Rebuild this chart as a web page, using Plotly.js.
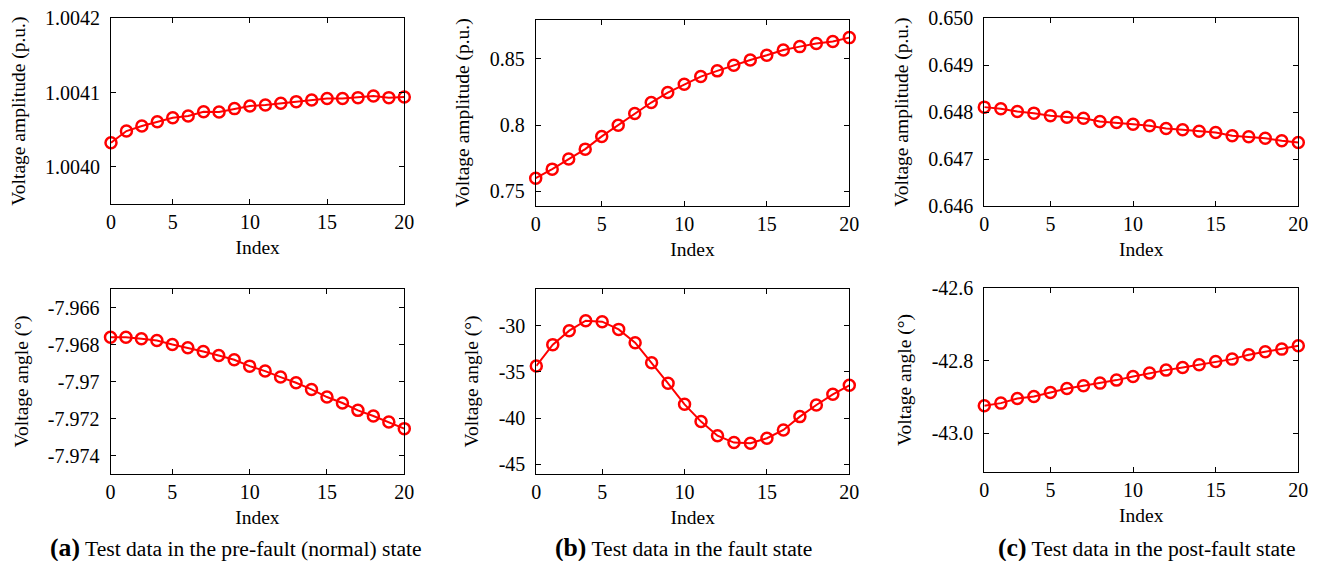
<!DOCTYPE html>
<html>
<head>
<meta charset="utf-8">
<script src="https://cdn.plot.ly/plotly-3.0.1.min.js"></script>
<style>html,body{margin:0;padding:0;background:#fff;}#chart{width:1318px;height:561px;}</style>
</head>
<body>
<div id="chart"></div>
<script>
// Sample index (20 samples)
const sampleIndex = [1,2,3,4,5,6,7,8,9,10,11,12,13,14,15,16,17,18,19,20];
const xTickVals = [1,5,10,15,20];
const xTickText = ['0','5','10','15','20'];

// (a) pre-fault (normal) state
const preAmp = [1.0040324,1.0040482,1.0040550,1.0040608,1.0040662,1.0040685,1.0040743,1.0040739,1.0040784,1.0040820,
                1.0040833,1.0040856,1.0040878,1.0040901,1.0040919,1.0040919,1.0040932,1.0040955,1.0040932,1.0040941];
const preAng = [-7.967604,-7.967604,-7.967694,-7.967784,-7.968000,-7.968180,-7.968378,-7.968593,-7.968827,-7.969169,
                -7.969438,-7.969762,-7.970067,-7.970427,-7.970840,-7.971164,-7.971560,-7.971865,-7.972189,-7.972548];
// (b) fault state
const faultAmp = [0.7600,0.7668,0.7744,0.7819,0.7915,0.8000,0.8088,0.8171,0.8246,0.8309,
                  0.8367,0.8410,0.8452,0.8492,0.8528,0.8568,0.8593,0.8616,0.8631,0.8661];
const faultAng = [-34.36,-32.05,-30.54,-29.46,-29.57,-30.40,-31.84,-34.00,-36.24,-38.51,
                  -40.38,-41.90,-42.65,-42.73,-42.18,-41.28,-39.84,-38.58,-37.43,-36.45];
// (c) post-fault state
const postAmp = [0.648107,0.648071,0.648014,0.647979,0.647922,0.647893,0.647872,0.647801,0.647780,0.647744,
                 0.647709,0.647652,0.647623,0.647595,0.647567,0.647496,0.647474,0.647446,0.647389,0.647353];
const postAng = [-42.9241,-42.9168,-42.9039,-42.8984,-42.8874,-42.8763,-42.8690,-42.8616,-42.8533,-42.8432,
                 -42.8340,-42.8257,-42.8184,-42.8110,-42.8018,-42.7954,-42.7834,-42.7752,-42.7678,-42.7586];

// y tick labels
const yTicksPreAmp = [1.0040,1.0041,1.0042];      const yTextPreAmp = ['1.0040','1.0041','1.0042'];
const yTicksPreAng = [-7.974,-7.972,-7.970,-7.968,-7.966]; const yTextPreAng = ['-7.974','-7.972','-7.97','-7.968','-7.966'];
const yTicksFaultAmp = [0.75,0.80,0.85];          const yTextFaultAmp = ['0.75','0.8','0.85'];
const yTicksFaultAng = [-45,-40,-35,-30];         const yTextFaultAng = ['-45','-40','-35','-30'];
const yTicksPostAmp = [0.646,0.647,0.648,0.649,0.650]; const yTextPostAmp = ['0.646','0.647','0.648','0.649','0.650'];
const yTicksPostAng = [-43.0,-42.8,-42.6];        const yTextPostAng = ['-43.0','-42.8','-42.6'];

const captions = [
  {tag:'(a)', text:'Test data in the pre-fault (normal) state'},
  {tag:'(b)', text:'Test data in the fault state'},
  {tag:'(c)', text:'Test data in the post-fault state'}
];

const W = 1318, H = 561;
const RED = '#ff0000';
const FONT = 'Liberation Serif, Times New Roman, serif';

// panel boxes in px: [left, right, top, bottom]
const boxes = [
  [111, 404.3, 18.3, 204],
  [535.7, 849.3, 20, 205.7],
  [984.3, 1298.3, 18.3, 206],
  [110.5, 404.3, 289, 474],
  [536.3, 849.3, 289, 474],
  [984.3, 1298.3, 288.3, 471.7]
];
const series = [preAmp, faultAmp, postAmp, preAng, faultAng, postAng];
const yRanges = [[1.00395,1.0042],[0.7392,0.8794],[0.646,0.650],[-7.975,-7.965],[-46.05,-26.03],[-43.106,-42.6]];
const yTV = [yTicksPreAmp, yTicksFaultAmp, yTicksPostAmp, yTicksPreAng, yTicksFaultAng, yTicksPostAng];
const yTT = [yTextPreAmp, yTextFaultAmp, yTextPostAmp, yTextPreAng, yTextFaultAng, yTextPostAng];
const yTitles = ['Voltage amplitude (p.u.)','Voltage amplitude (p.u.)','Voltage amplitude (p.u.)',
                 'Voltage angle (°)','Voltage angle (°)','Voltage angle (°)'];

const data = [];
const layout = {
  width: W, height: H,
  margin: {l:0, r:0, t:0, b:0},
  paper_bgcolor: '#fff', plot_bgcolor: '#fff',
  showlegend: false,
  font: {family: FONT, color: '#000', size: 20},
  annotations: []
};

for (let i = 0; i < 6; i++) {
  const n = i + 1;
  const xa = n === 1 ? 'x' : 'x' + n;
  const ya = n === 1 ? 'y' : 'y' + n;
  data.push({
    type: 'scatter', mode: 'lines+markers',
    x: sampleIndex, y: series[i],
    xaxis: xa, yaxis: ya,
    line: {color: RED, width: 2},
    marker: {symbol: 'circle-open', size: 11, color: RED, line: {color: RED, width: 2.5}},
    cliponaxis: false,
    hoverinfo: 'x+y'
  });
  const b = boxes[i];
  const common = {
    showline: true, linecolor: '#000', linewidth: 1, mirror: 'ticks',
    ticks: 'inside', ticklen: 5, tickcolor: '#000', tickwidth: 1,
    showgrid: false, zeroline: false,
    tickfont: {family: FONT, size: 20, color: '#000'}
  };
  layout['xaxis' + (n === 1 ? '' : n)] = Object.assign({}, common, {
    domain: [b[0] / W, b[1] / W],
    anchor: ya,
    range: [1, 20],
    tickmode: 'array', tickvals: xTickVals, ticktext: xTickText,
    ticklabelstandoff: 0,
    title: {text: 'Index', font: {family: FONT, size: 19.5, color: '#000'}, standoff: 8}
  });
  layout['yaxis' + (n === 1 ? '' : n)] = Object.assign({}, common, {
    domain: [1 - b[3] / H, 1 - b[2] / H],
    anchor: xa,
    range: yRanges[i],
    tickmode: 'array', tickvals: yTV[i], ticktext: yTT[i],
    ticklabelstandoff: 6,
    title: {text: yTitles[i], font: {family: FONT, size: 19.5, color: '#000'}, standoff: 14}
  });
}

const capX = [236, 683, 1147];
for (let k = 0; k < 3; k++) {
  layout.annotations.push({
    xref: 'paper', yref: 'paper',
    x: capX[k] / W, y: 1 - 547 / H,
    xanchor: 'center', yanchor: 'middle',
    showarrow: false,
    text: '<b><span style="font-size:25.7px">' + captions[k].tag + '</span></b> ' + captions[k].text,
    font: {family: FONT, size: 21.6, color: '#000'}
  });
}

Plotly.newPlot('chart', data, layout, {staticPlot: true, displayModeBar: false});
</script>
</body>
</html>
